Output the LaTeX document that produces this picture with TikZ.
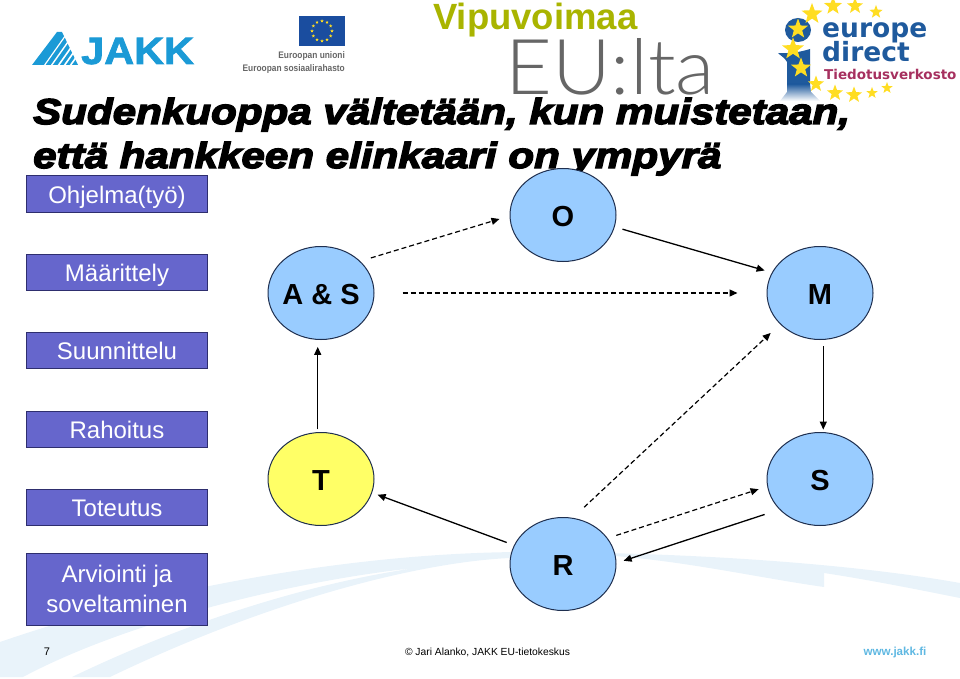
\documentclass[tikz,border=0pt]{standalone}
\usepackage{fontspec}
\setmainfont{Liberation Sans}
\newfontfamily\blackfont[BoldItalicFeatures={FakeBold=4,FakeStretch=1.17}]{Liberation Sans}
\newfontfamily\jakkfont[BoldFeatures={FakeBold=2,FakeStretch=1.09}]{Liberation Sans}
\newfontfamily\thinfont{Lato Light}
\newfontfamily\heavyfont{DejaVu Sans Bold}
\usetikzlibrary{arrows.meta,shapes.geometric}
\definecolor{swoosh}{HTML}{E9F3FA}
\definecolor{jakkblue}{HTML}{1B9AD6}
\definecolor{eublue}{HTML}{1A4D9F}
\definecolor{vipu}{HTML}{A9B400}
\definecolor{direct}{HTML}{1F5A9D}
\definecolor{tiedotus}{HTML}{A6305F}
\definecolor{boxfill}{HTML}{6666CC}
\definecolor{boxline}{HTML}{2E2E6E}
\definecolor{circfill}{HTML}{99CCFF}
\definecolor{circline}{HTML}{1F2F4F}
\definecolor{circyellow}{HTML}{FFFF66}
\definecolor{starfill}{HTML}{FFDD22}
\tikzset{
  phasebox/.style={draw=boxline,fill=boxfill,line width=1pt,minimum width=181pt,minimum height=36pt,
    inner sep=0pt,text=white,text height=18pt,text depth=0pt,font=\fontsize{24}{29.5}\selectfont},
  phasecirc/.style={ellipse,draw=circline,fill=circfill,line width=1pt,minimum width=106pt,minimum height=93pt,
    inner sep=0pt,text height=22pt,text depth=0pt,font=\fontsize{29}{32}\selectfont\bfseries},
  conn/.style={-{Triangle[length=8pt,width=7pt]},line width=1.3pt},
  dashconn/.style={conn,line width=1.2pt,dash pattern=on 5pt off 3pt},
  logotext/.style={inner sep=0pt,anchor=base west},
  smalleu/.style={inner sep=0pt,anchor=base east,text=black!60,xscale=.88,font=\fontsize{9.5}{12}\selectfont\bfseries},
  logostar/.style={star,star points=5,star point ratio=2.4,fill=starfill,inner sep=0pt}
}
\begin{document}
\begin{tikzpicture}[x=1pt,y=-1pt]
\useasboundingbox (0,0) rectangle (960,679);
% Fondo
\fill[swoosh] (0,642) .. controls (150,590) and (350,553) .. (520,552)
  .. controls (700,552) and (860,565) .. (960,583) -- (960,598)
  .. controls (920,590) and (870,580) .. (824,573) -- (824,587)
  .. controls (760,578) and (690,562) .. (615,556) -- (510,558)
  .. controls (420,562) and (270,600) .. (110,677) -- (72,677)
  .. controls (180,625) and (300,585) .. (415,568)
  .. controls (300,580) and (130,620) .. (23,677) -- (0,677) -- cycle;
% JAKK
\fill[jakkblue] (32,65) -- (57,32) -- (62,32) -- (78,65) -- cycle;
\foreach \i/\w in {44/1.2,51/1.4,58/1.6,64/1.6,70/1.6}
  \draw[white,line width=\w pt] (\i,66) -- (\i+24,32);
\node[logotext,text=jakkblue,font=\fontsize{38}{38}\jakkfont\bfseries] (jakk) at (81,64) {JAKK};
% EU
\fill[eublue] (299,16) rectangle (345,46);
\foreach \a in {0,30,...,330}
  \node[logostar,minimum size=3.5pt] (eustar\a) at ({322+10*cos(\a)},{31+10*sin(\a)}) {};
\node[smalleu] (unioni) at (345,59) {Euroopan unioni};
\node[smalleu] (sosiaali) at (345,72) {Euroopan sosiaalirahasto};
% Vipuvoimaa
\node[logotext,text=vipu,font=\fontsize{36.5}{38}\selectfont\bfseries] (vipuvoimaa) at (433,30) {Vipuvoimaa};
\node[logotext,text=black!60,xscale=1.05,font=\fontsize{77}{77}\thinfont] (eulta) at (505,95) {EU:lta};
% Europe direct
\fill[direct] (798,30) ellipse [x radius=13,y radius=12];
\fill[direct] (778,53) .. controls (790,54) and (800,52) .. (810,49) -- (810,84) -- (787,84) -- (787,62) .. controls (785,58) and (781,56) .. (778,53) -- cycle;
\shade[top color=direct,bottom color=white] (787,84) -- (810,84) -- (811,92) -- (820,101) -- (780,101) -- (787,92) -- cycle;
\foreach \x/\y/\r in {833/6/9.5,855/6/8.5,876/12/7,812/14/11,798/29/10.5,793/49/11.5,801/68/10.5,816/84/8.5,835/93/8.5,854/95/8.5,872/93/6,887/88/6}
  \node[logostar,minimum size=2*\r pt] (star\x) at (\x,\y) {};
\node[logotext,text=direct,font=\fontsize{26.5}{28}\heavyfont] (europe) at (822,37.5) {europe};
\node[logotext,text=direct,font=\fontsize{26.5}{28}\heavyfont] (directtxt) at (822,62) {direct};
\node[logotext,text=tiedotus,font=\fontsize{13.5}{14}\heavyfont] (tiedotusv) at (824,79.5) {Tiedotusverkosto};
% Titulo
\node[logotext,font=\fontsize{36}{44}\blackfont\bfseries\itshape] (titulo1) at (33,124) {Sudenkuoppa vältetään, kun muistetaan,};
\node[logotext,font=\fontsize{36}{44}\blackfont\bfseries\itshape] (titulo2) at (33,168) {että hankkeen elinkaari on ympyrä};
% Cajas
\node[phasebox] (ohjelma) at (117,194) {Ohjelma(työ)};
\node[phasebox] (maarittely) at (117,272) {Määrittely};
\node[phasebox] (suunnittelu) at (117,350) {Suunnittelu};
\node[phasebox] (rahoitus) at (117,429) {Rahoitus};
\node[phasebox] (toteutus) at (117,507) {Toteutus};
\node[phasebox,minimum height=72pt,align=center,text height=,text depth=] (arviointi) at (117,589) {Arviointi ja\\soveltaminen};
% Circulos
\node[phasecirc] (o) at (563,215) {O};
\node[phasecirc,inner xsep=-4pt] (as) at (321,293) {A \& S};
\node[phasecirc] (m) at (820,293) {M};
\node[phasecirc,fill=circyellow] (t) at (321,479) {T};
\node[phasecirc] (s) at (820,479) {S};
\node[phasecirc] (r) at (563,564) {R};
% Flechas
\draw[dashconn,shorten <=11pt,shorten >=10.5pt] (as.39) -- (o.181);
\draw[conn,shorten <=8pt,shorten >=7.5pt] (o.-13) -- (m.157);
\draw[dashconn,shorten <=28pt,shorten >=29pt] (as.east) -- (m.west);
\draw[conn,shorten <=6.5pt,shorten >=2.5pt] (m.-86) -- (s.86);
\draw[dashconn,shorten <=15.4pt,shorten >=12.8pt] (r.78) -- (m.218);
\draw[dashconn,shorten <=9pt,shorten >=9pt] (r.30) -- (s.188);
\draw[conn,shorten <=15.6pt,shorten >=7.5pt] (s.217) -- (r.1);
\draw[conn,shorten <=7.8pt,shorten >=5.8pt] (r.159) -- (t.-15);
\draw[conn,shorten <=2.6pt,shorten >=7pt] (t.94) -- (as.-94);
% Pie
\node[inner sep=0pt,font=\fontsize{11}{14}\selectfont] (sivu) at (47,652) {7};
\node[inner sep=0pt,font=\fontsize{10.3}{14}\selectfont] (alanko) at (487.5,652) {© Jari Alanko, JAKK EU-tietokeskus};
\node[inner sep=0pt,text=jakkblue!70,font=\fontsize{11.6}{14}\selectfont\bfseries] (www) at (895,652) {www.jakk.fi};
\end{tikzpicture}
\end{document}
